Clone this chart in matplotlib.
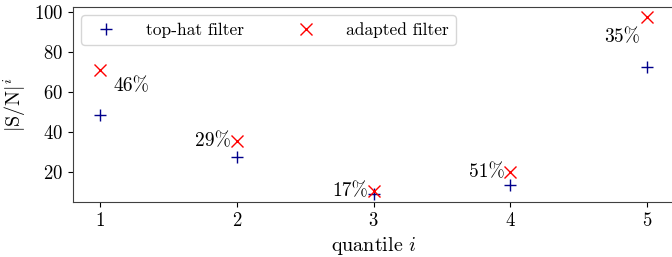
import matplotlib
matplotlib.use("Agg")
import matplotlib.pyplot as plt
import numpy as np

plt.rcParams['font.family'] = 'serif'
plt.rcParams['font.serif'] = ['cmr10']
plt.rcParams['mathtext.fontset'] = 'cm'
plt.rcParams['axes.formatter.use_mathtext'] = True

# dati
quantile = [1, 2, 3, 4, 5]
top_hat = [48.6, 27.4, 8.5, 13.0, 72.3]
adapted = [71.0, 35.4, 10.0, 19.6, 97.6]
gain = ['46%', '29%', '17%', '51%', '35%']

fig = plt.figure(figsize=(6.72, 2.57), dpi=100)
ax = fig.add_axes([72.65/672, 55/257, 601.7/672, 195.5/257])

ax.plot(quantile, top_hat, '+', color='darkblue', markersize=8, label='top-hat filter')
ax.plot(quantile, adapted, 'x', color='red', markersize=8, label='adapted filter')

# etichette del guadagno
ax.text(1.1, adapted[0] - 8, gain[0], ha='left', va='center', fontsize=14)
for k in [1, 2, 3]:
    ax.text(quantile[k] - 0.04, adapted[k], gain[k], ha='right', va='center', fontsize=14)
ax.text(4.95, adapted[4] - 10, gain[4], ha='right', va='center', fontsize=14)

ax.set_xlim(0.8, 5.2)
ax.set_ylim(4.7, 102.8)
ax.set_xticks(quantile)
ax.set_yticks([20, 40, 60, 80, 100])
ax.tick_params(labelsize=13.5)
for s in ax.spines.values():
    s.set_color('0.25')
ax.set_xlabel(r'quantile $i$', fontsize=14.5)
ax.set_ylabel(r'$|\mathrm{S/N}|^i$', fontsize=14.5, labelpad=4)
ax.legend(loc='upper left', ncol=2, fontsize=12.5, handletextpad=1.3, columnspacing=2.6)

fig.savefig('out.png', dpi=100)
